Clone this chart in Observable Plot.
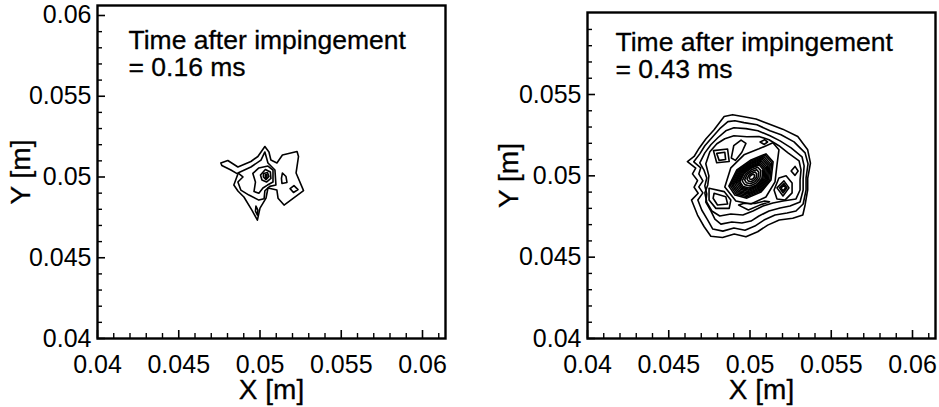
<!DOCTYPE html>
<html><head><meta charset="utf-8">
<script src="https://cdn.jsdelivr.net/npm/d3@7"></script>
<script src="https://cdn.jsdelivr.net/npm/@observablehq/plot@0.6"></script>
<style>
html,body{margin:0;padding:0;background:#fff;}
#wrap{position:relative;width:939px;height:407px;overflow:hidden;background:#fff;}
.panel{position:absolute;top:0;}
</style></head><body>
<div id="wrap"><div class="panel" id="p1" style="left:0px"></div><div class="panel" id="p2" style="left:480px"></div></div>
<script>
// ---- axis ticks (metres) ----
const xTicks = [0.04, 0.045, 0.05, 0.055, 0.06];
const yTicksLeft = [0.04, 0.045, 0.05, 0.055, 0.06];
const yTicksRight = [0.04, 0.045, 0.05, 0.055];
const xMinor = [0.041,0.042,0.043,0.044,0.046,0.047,0.048,0.049,0.051,0.052,0.053,0.054,0.056,0.057,0.058,0.059,0.061];
const yMinor = [0.041,0.042,0.043,0.044,0.046,0.047,0.048,0.049,0.051,0.052,0.053,0.054,0.056,0.057,0.058,0.059];
const titles = ["Time after impingement\n= 0.16 ms", "Time after impingement\n= 0.43 ms"];
const xLabel = "X [m]";
const yLabel = "Y [m]";

// ---- contour lines, points [x, y] in millimetres ----
// left panel (0.16 ms)
const L1 = [[47.59,50.87],[48.02,51.02],[48.64,50.62],[49.44,50.96],[49.87,51.27],[50.30,51.89],[50.55,51.55],[50.67,51.05],[51.04,50.87],[51.38,51.36],[52.28,51.58],[52.37,51.27],[52.22,50.25],[52.68,49.16],[51.48,48.26],[51.11,48.69],[51.04,49.19],[50.49,49.32],[50.37,48.69],[50.00,48.07],[49.84,47.33],[49.50,47.95],[49.01,48.76],[48.64,49.13],[48.39,49.50],[48.64,50.18],[48.21,50.43],[47.65,50.71]];
const L2 = [[48.64,50.25],[49.44,50.62],[50.06,51.05],[50.30,51.55],[50.49,50.87],[50.92,50.43],[50.98,49.50],[50.60,49.42],[50.30,49.15],[50.25,48.65],[49.93,48.57],[49.32,48.88],[48.82,49.19],[48.64,49.69],[48.95,50.00]];
const L3 = [[49.56,50.22],[49.93,50.56],[50.49,50.68],[50.80,50.43],[50.80,49.69],[50.46,49.50],[50.18,49.32],[49.93,49.00],[49.63,49.10],[49.72,49.69]];
const L4 = [[50.03,50.12],[50.33,50.46],[50.64,50.31],[50.67,49.91],[50.40,49.69],[50.12,49.81]];
const L5 = [[50.21,50.22],[50.46,50.28],[50.55,50.03],[50.37,49.84],[50.21,50.00]];
const L6 = [[50.33,50.15],[50.43,50.15],[50.43,49.94],[50.33,49.94]];
const LA = [[51.38,50.25],[51.60,50.03],[51.66,49.66],[51.35,49.60],[51.32,49.91]];
const LB = [[51.85,49.28],[52.09,49.47],[52.34,49.22],[52.06,49.04]];
const LC = [[49.75,48.20],[49.87,47.95],[49.84,47.64],[49.72,47.89]];

// right panel (0.43 ms)
const R1 = [[46.15,50.88],[46.56,51.19],[46.87,51.70],[47.28,52.26],[47.79,52.83],[48.41,53.65],[48.93,53.76],[49.54,53.65],[50.37,53.49],[51.29,53.14],[52.01,52.87],[52.94,52.42],[53.55,51.60],[53.72,50.78],[53.55,49.85],[53.55,49.13],[53.39,48.21],[53.25,47.59],[52.63,47.39],[51.80,47.28],[51.09,46.97],[50.47,46.56],[49.75,46.25],[49.03,46.42],[48.31,46.21],[47.59,46.29],[47.18,46.87],[46.77,47.59],[46.40,48.51],[46.81,48.93],[46.56,49.30],[46.77,49.71],[46.46,50.12],[46.66,50.47]];
const R2 = [[46.54,50.86],[46.91,51.35],[47.22,51.85],[47.65,52.34],[48.14,52.90],[48.64,53.33],[49.07,53.39],[49.63,53.27],[50.43,53.14],[51.23,52.77],[51.91,52.53],[52.71,52.09],[53.39,51.41],[53.57,50.74],[53.45,49.87],[53.45,49.13],[53.27,48.27],[52.83,47.84],[52.28,47.71],[51.54,47.59],[50.86,47.28],[50.30,46.91],[49.69,46.66],[49.01,46.79],[48.33,46.60],[47.71,46.73],[47.40,47.28],[47.03,47.90],[46.79,48.51],[47.10,48.95],[46.85,49.32],[47.10,49.69],[46.85,50.12],[46.97,50.49]];
const R3 = [[46.91,50.80],[47.22,51.41],[47.59,51.91],[48.02,52.34],[48.51,52.77],[49.01,52.96],[49.75,52.90],[50.49,52.77],[51.23,52.46],[51.85,52.15],[52.53,51.72],[53.20,51.17],[53.33,50.61],[53.27,49.81],[53.27,49.13],[53.08,48.39],[52.46,48.14],[51.85,48.02],[51.17,47.84],[50.55,47.53],[50.06,47.22],[49.50,47.10],[48.88,47.16],[48.21,47.03],[47.84,47.34],[47.59,47.84],[47.28,48.39],[47.34,48.88],[47.22,49.38],[47.34,49.87],[47.16,50.37]];
const R4 = [[47.28,50.74],[47.53,51.48],[47.96,51.97],[48.45,52.28],[49.01,52.46],[49.81,52.40],[50.55,52.42],[51.17,52.22],[51.78,51.85],[52.34,51.41],[53.02,50.92],[53.14,50.37],[53.08,49.75],[53.08,49.13],[52.83,48.58],[52.03,48.45],[51.41,48.33],[50.80,48.14],[50.18,47.84],[49.56,47.59],[48.82,47.65],[48.14,47.53],[47.65,47.84],[47.34,48.39],[47.22,48.95],[47.40,49.44],[47.47,50.00]];
const K0 = [[48.45,49.32],[48.82,50.49],[49.63,51.29],[50.55,51.66],[51.41,52.03],[51.78,51.60],[51.66,50.67],[51.54,49.63],[50.98,48.70],[50.06,48.27],[49.13,48.45]];
const K1 = [[48.70,49.37],[49.19,50.36],[50.06,50.98],[50.98,51.35],[51.42,50.86],[51.29,49.74],[50.68,49.00],[49.81,48.63],[49.07,48.82]];
const K1b = [[48.79,49.41],[49.25,50.33],[50.07,50.91],[50.93,51.26],[51.34,50.80],[51.22,49.75],[50.65,49.06],[49.83,48.72],[49.14,48.89]];
const K2 = [[48.88,49.44],[49.31,50.30],[50.07,50.84],[50.87,51.17],[51.25,50.74],[51.14,49.76],[50.61,49.12],[49.85,48.80],[49.21,48.96]];
const K2b = [[48.96,49.47],[49.37,50.27],[50.07,50.78],[50.82,51.08],[51.18,50.68],[51.07,49.78],[50.58,49.18],[49.87,48.88],[49.27,49.03]];
const K3 = [[49.05,49.51],[49.42,50.25],[50.07,50.72],[50.77,51.00],[51.10,50.63],[51.00,49.79],[50.54,49.23],[49.89,48.95],[49.33,49.10]];
const K3b = [[49.14,49.55],[49.47,50.22],[50.07,50.65],[50.71,50.91],[51.02,50.57],[50.93,49.80],[50.50,49.29],[49.90,49.03],[49.40,49.17]];
const K4 = [[49.23,49.58],[49.53,50.20],[50.08,50.59],[50.66,50.82],[50.94,50.52],[50.86,49.81],[50.47,49.34],[49.92,49.11],[49.46,49.23]];
const K4b = [[49.31,49.61],[49.59,50.17],[50.08,50.53],[50.61,50.74],[50.87,50.46],[50.79,49.82],[50.44,49.40],[49.94,49.18],[49.51,49.29]];
const K5 = [[49.38,49.64],[49.64,50.15],[50.09,50.48],[50.57,50.67],[50.80,50.41],[50.73,49.83],[50.41,49.45],[49.96,49.25],[49.57,49.35]];
const K6 = [[49.52,49.69],[49.73,50.11],[50.09,50.37],[50.48,50.53],[50.67,50.32],[50.61,49.85],[50.36,49.54],[49.99,49.38],[49.68,49.46]];
const K7 = [[49.67,49.75],[49.82,50.07],[50.10,50.27],[50.40,50.38],[50.54,50.23],[50.49,49.87],[50.30,49.63],[50.02,49.51],[49.78,49.57]];
const K8 = [[49.81,49.81],[49.92,50.02],[50.11,50.16],[50.31,50.24],[50.41,50.13],[50.38,49.89],[50.24,49.73],[50.05,49.64],[49.89,49.69]];
const K9 = [[49.95,49.86],[50.01,49.98],[50.11,50.06],[50.22,50.10],[50.28,50.04],[50.26,49.91],[50.19,49.82],[50.08,49.77],[49.99,49.80]];
const T1 = [[47.75,51.55],[48.62,51.65],[48.72,50.88],[47.95,50.80]];
const T2 = [[47.95,51.38],[48.45,51.45],[48.50,51.00],[48.10,50.95]];
const O1 = [[48.85,51.10],[49.00,51.85],[49.45,52.20],[49.75,52.00],[49.50,51.45],[49.10,50.95]];
const Q1 = [[50.62,52.08],[50.90,52.22],[51.08,52.08],[50.88,51.93]];
const D1 = [[51.48,49.13],[51.78,49.87],[52.22,50.00],[52.59,49.56],[52.59,48.95],[52.15,48.51],[51.66,48.58]];
const D2 = [[51.66,49.26],[52.09,49.69],[52.40,49.26],[52.03,48.76]];
const D3 = [[51.82,49.26],[52.09,49.53],[52.28,49.26],[52.03,48.95]];
const D4 = [[51.91,49.26],[52.09,49.41],[52.19,49.26],[52.03,49.07]];
const E1 = [[52.53,50.30],[52.77,50.58],[52.96,50.30],[52.77,50.03]];
const V1 = [[47.48,49.24],[48.41,49.03],[48.82,48.51],[48.72,48.00],[47.90,48.00],[47.48,48.51]];
const V2 = [[47.79,48.93],[48.51,48.72],[48.62,48.27],[48.00,48.21],[47.73,48.62]];
const B1 = [[49.30,48.20],[49.90,47.90],[50.60,48.20],[51.20,48.40],[50.90,48.45],[50.30,48.30],[49.60,48.30]];

const leftLines = [L1, L2, L3, L4, L5, L6, LA, LB, LC];
const rightLines = [R1, R2, R3, R4, K0, K1, K1b, K2, K2b, K3, K3b, K4, K4b, K5, K6, K7, K8, K9, T1, T2, O1, Q1, D1, D2, D3, D4, E1, V1, V2, B1];

function toRows(lines) {
  return lines.flatMap((pts, i) => pts.map(([x, y]) => ({x: x / 1000, y: y / 1000, id: i})));
}

const FONT = "Liberation Sans, Arial, Helvetica, sans-serif";
const fmt = d => String(d);

function panel({lines, yTicks, yDomain, marginLeft, marginRight, marginTop, width, title, titleDx, titleDy, yLabelDx}) {
  return Plot.plot({
    width, height: 407,
    marginLeft, marginRight, marginTop, marginBottom: 69,
    x: {domain: [0.04, 0.061415]},
    y: {domain: yDomain},
    style: {fontFamily: FONT, fontSize: "25px", overflow: "visible", background: "white", color: "black"},
    marks: [
      Plot.line(toRows(lines), {x: "x", y: "y", z: "id", curve: "linear-closed", stroke: "black", strokeWidth: 1.6}),
      Plot.axisX(xTicks, {anchor: "bottom", tickSize: -8, tickPadding: 25, strokeWidth: 1.6, label: null, tickFormat: fmt, fontSize: 25, stroke: "black"}),
      Plot.axisX(xMinor, {anchor: "bottom", tickSize: -5, tickFormat: () => "", strokeWidth: 1.4, label: null}),
      Plot.axisY(yTicks, {anchor: "left", tickSize: -8, tickPadding: 14, strokeWidth: 1.6, label: null, tickFormat: fmt, fontSize: 25}),
      Plot.axisY(yMinor, {anchor: "left", tickSize: -5, tickFormat: () => "", strokeWidth: 1.4, label: null}),
      Plot.frame({stroke: "black", strokeWidth: 2.4}),
      Plot.text([title], {text: d => d, frameAnchor: "top-left", textAnchor: "start", lineAnchor: "top", lineHeight: 1.0, dx: titleDx, dy: titleDy, fontSize: 26.5, fill: "black", stroke: "black", strokeWidth: 0.3}),
      Plot.text([xLabel], {text: d => d, frameAnchor: "bottom", textAnchor: "middle", lineAnchor: "middle", dy: 52, fontSize: 28, fill: "black", stroke: "black", strokeWidth: 0.3}),
      Plot.text([yLabel], {text: d => d, frameAnchor: "left", textAnchor: "middle", lineAnchor: "middle", rotate: -90, dx: yLabelDx, fontSize: 28, fill: "black", stroke: "black", strokeWidth: 0.3})
    ]
  });
}

document.getElementById("p1").appendChild(panel({
  lines: leftLines, yTicks: yTicksLeft, yDomain: [0.04, 0.060619],
  marginLeft: 97, marginRight: 15, marginTop: 5, width: 460,
  title: titles[0], titleDx: 31, titleDy: 25, yLabelDx: -76
}));
document.getElementById("p2").appendChild(panel({
  lines: rightLines, yTicks: yTicksRight, yDomain: [0.04, 0.060041],
  marginLeft: 107, marginRight: 4, marginTop: 12, width: 459,
  title: titles[1], titleDx: 28, titleDy: 20, yLabelDx: -78
}));
</script></body></html>
